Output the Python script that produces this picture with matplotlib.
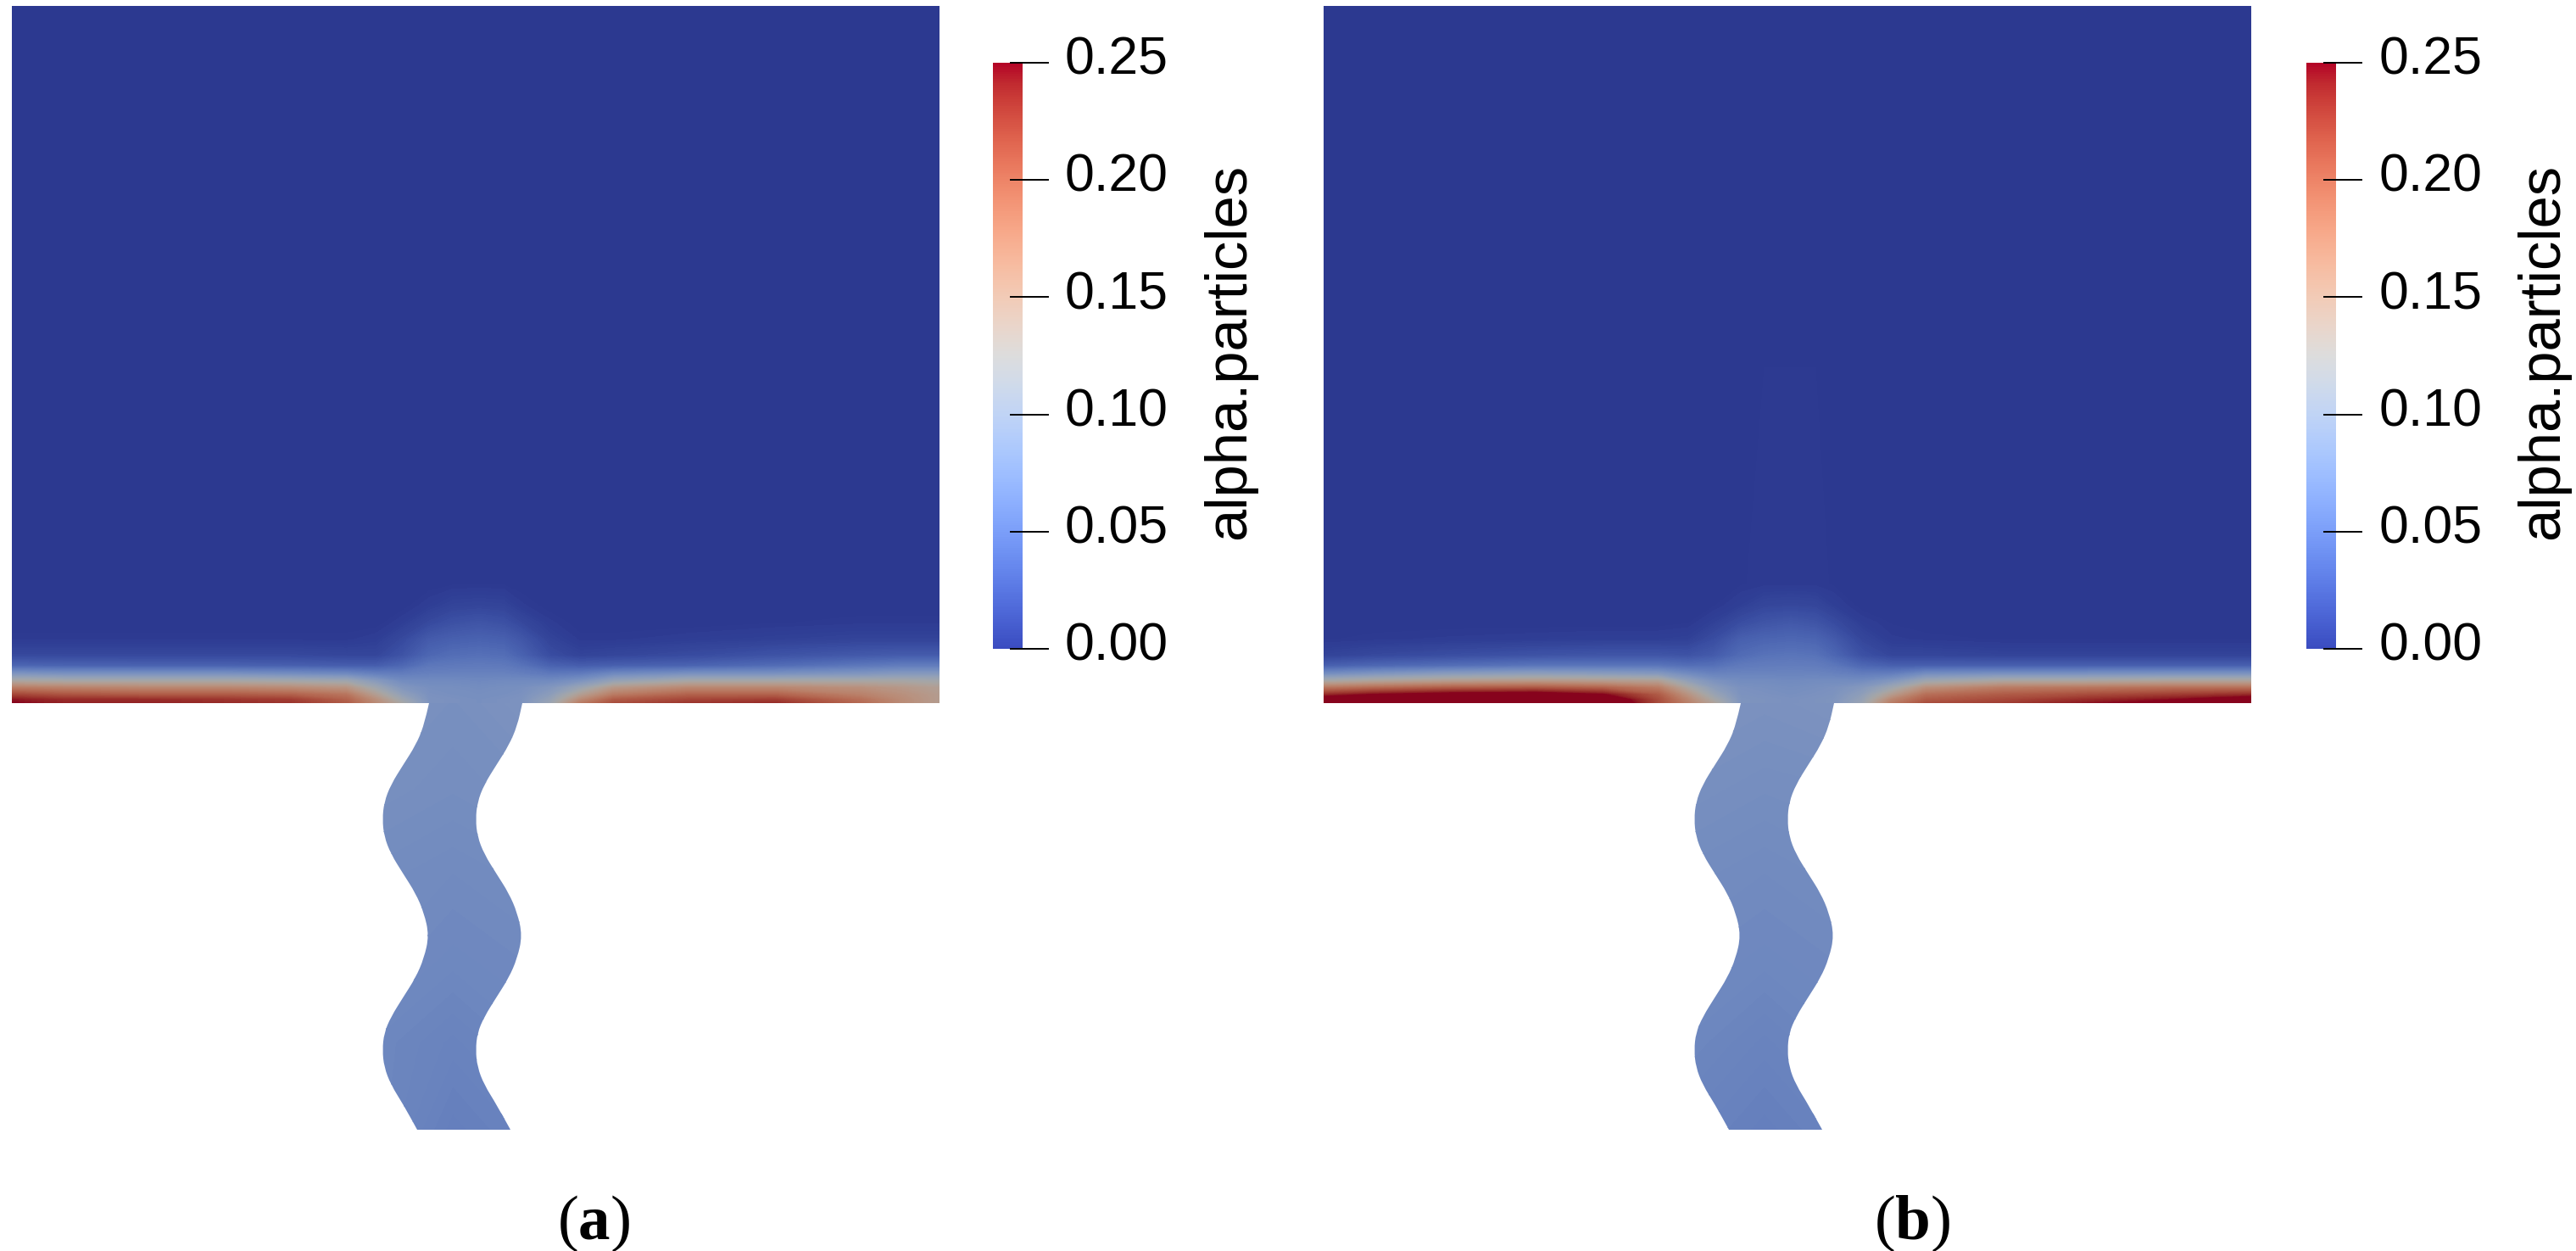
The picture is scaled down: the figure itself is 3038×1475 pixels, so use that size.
#!/usr/bin/env python
"""Particle volume fraction fields for two cases, with colour bars."""

import matplotlib
matplotlib.use('Agg')
import matplotlib.pyplot as plt
import numpy as np
from matplotlib.cm import ScalarMappable
from matplotlib.colors import ListedColormap, Normalize
from matplotlib.patches import PathPatch
from matplotlib.path import Path

WIDTH, HEIGHT = 3038, 1475
DPI = 100

# field nodes, in image pixels from the left wall and from the floor
X_NODES = [0, 60, 150, 250, 330, 395, 430, 460, 492, 520, 551, 580, 601, 635, 670, 710, 800, 900, 1000, 1050, 1094]
H_NODES = [0, 4, 10, 18, 26, 34, 44, 56, 75, 95, 115, 140, 822]

FIELD_A = [
    [.250, .240, .240, .235, .230, .205, .165, .125, .080, .078, .076, .078, .080, .110, .180, .215, .230, .235, .195, .165, .145],
    [.245, .235, .235, .230, .225, .200, .160, .115, .080, .078, .076, .078, .080, .105, .165, .205, .220, .225, .190, .165, .145],
    [.220, .210, .205, .205, .200, .185, .140, .100, .078, .076, .075, .076, .078, .095, .140, .180, .200, .200, .175, .160, .145],
    [.180, .175, .170, .170, .165, .155, .115, .085, .076, .075, .073, .075, .076, .085, .110, .150, .170, .170, .160, .150, .140],
    [.130, .125, .125, .125, .120, .115, .090, .072, .070, .070, .068, .070, .070, .070, .080, .105, .125, .125, .125, .125, .120],
    [.085, .080, .080, .080, .075, .070, .060, .056, .060, .061, .061, .061, .058, .052, .055, .070, .080, .080, .085, .090, .090],
    [.035, .033, .032, .032, .030, .028, .028, .036, .050, .052, .053, .052, .046, .032, .028, .030, .033, .040, .050, .055, .055],
    [.012, .012, .012, .012, .012, .010, .010, .020, .036, .042, .044, .042, .032, .015, .008, .010, .014, .020, .025, .027, .027],
    [.002, .002, .002, .002, .002, .002, .004, .012, .026, .030, .032, .030, .023, .008, .002, .002, .004, .006, .008, .008, .008],
    [.000, .000, .000, .000, .000, .000, .000, .004, .012, .018, .021, .018, .011, .003, .000, .000, .000, .001, .002, .002, .002],
    [.000, .000, .000, .000, .000, .000, .000, .000, .004, .008, .009, .008, .003, .000, .000, .000, .000, .000, .000, .000, .000],
    [.000, .000, .000, .000, .000, .000, .000, .000, .000, .001, .001, .001, .000, .000, .000, .000, .000, .000, .000, .000, .000],
    [.000, .000, .000, .000, .000, .000, .000, .000, .000, .000, .000, .000, .000, .000, .000, .000, .000, .000, .000, .000, .000],
]

FIELD_B = [
    [.280, .290, .300, .310, .290, .215, .175, .135, .082, .080, .078, .080, .082, .110, .180, .215, .225, .245, .255, .265, .280],
    [.270, .280, .290, .300, .280, .215, .170, .125, .082, .080, .078, .080, .082, .105, .170, .205, .218, .235, .248, .258, .268],
    [.235, .250, .262, .268, .250, .205, .155, .110, .080, .078, .076, .078, .080, .098, .145, .190, .205, .215, .225, .230, .235],
    [.185, .195, .205, .208, .200, .180, .130, .095, .078, .076, .074, .076, .078, .088, .115, .160, .180, .185, .190, .190, .190],
    [.125, .135, .145, .150, .145, .140, .100, .080, .072, .072, .070, .072, .072, .072, .085, .115, .130, .130, .135, .135, .135],
    [.075, .085, .095, .100, .095, .090, .072, .062, .063, .063, .063, .063, .061, .056, .058, .075, .080, .080, .082, .082, .082],
    [.030, .036, .042, .048, .048, .048, .042, .044, .053, .055, .056, .055, .050, .036, .030, .030, .030, .030, .030, .030, .030],
    [.008, .012, .016, .020, .022, .022, .020, .026, .040, .046, .048, .046, .036, .018, .010, .010, .008, .008, .008, .008, .008],
    [.001, .002, .003, .004, .005, .005, .006, .015, .030, .034, .036, .034, .026, .010, .003, .002, .001, .001, .001, .001, .001],
    [.000, .000, .000, .000, .000, .000, .001, .006, .015, .021, .024, .021, .014, .004, .001, .000, .000, .000, .000, .000, .000],
    [.000, .000, .000, .000, .000, .000, .000, .001, .005, .010, .011, .010, .005, .000, .000, .000, .000, .000, .000, .000, .000],
    [.000, .000, .000, .000, .000, .000, .000, .000, .001, .002, .002, .002, .001, .000, .000, .000, .000, .000, .000, .000, .000],
    [.000, .000, .000, .000, .000, .000, .000, .000, .000, .000, .000, .000, .000, .000, .000, .000, .000, .000, .000, .000, .000],
]

# wavy channel below the floor: depth and left wall position, right wall is a fixed width away
CHANNEL_DEPTH = [0, 27, 50, 72, 96, 117, 137, 157, 178, 202, 224, 247, 274, 301, 324, 346, 370, 389, 409, 429, 450, 474, 503]
CHANNEL_LEFT = [492, 486, 476, 462, 447, 439, 437, 439, 447, 462, 476, 486, 492, 486, 476, 462, 447, 439, 437, 439, 447, 462, 478]
CHANNEL_WIDTH = 110

CHANNEL_X_NODES = [430, 520, 610]
CHANNEL_H_NODES = [-503, -400, -300, -200, -100, 0]
CHANNEL_A = [
    [.066, .058, .062],
    [.066, .062, .066],
    [.070, .067, .069],
    [.072, .070, .072],
    [.076, .074, .076],
    [.080, .076, .080],
]
CHANNEL_B = [
    [.062, .058, .062],
    [.066, .062, .066],
    [.069, .067, .069],
    [.072, .070, .072],
    [.076, .074, .075],
    [.080, .078, .080],
]

CBAR_TICKS = [0.00, 0.05, 0.10, 0.15, 0.20, 0.25]
CBAR_LABEL = 'alpha.particles'
PANEL_LABELS = ['a', 'b']


def px_axes(fig, left, top, right, bottom):
    """Add axes placed by image pixel edges."""
    return fig.add_axes([left / WIDTH, 1 - bottom / HEIGHT, (right - left) / WIDTH, (bottom - top) / HEIGHT])


def field_colormap():
    """Same colour map as the bar, but shaded darker like the rendered surface."""
    colours = plt.get_cmap('coolwarm')(np.linspace(0, 1, 512))
    colours[:, :3] *= 0.75
    return ListedColormap(colours)


def smooth_wall(points):
    """Vertices and codes of a quadratic curve using the points as control points."""
    mids = (points[:-1] + points[1:]) / 2
    verts, codes = [points[0]], [Path.LINETO]
    for ctrl, mid in zip(points[1:-1], mids[1:]):
        verts += [ctrl, mid]
        codes += [Path.CURVE3, Path.CURVE3]
    verts.append(points[-1])
    codes.append(Path.LINETO)
    return verts, codes


def channel_path():
    depth = -np.array(CHANNEL_DEPTH, dtype=float)
    walls = np.array(CHANNEL_LEFT, dtype=float)
    left_verts, left_codes = smooth_wall(np.column_stack([walls, depth]))
    right_verts, right_codes = smooth_wall(np.column_stack([walls + CHANNEL_WIDTH, depth])[::-1])
    verts = left_verts + right_verts + [left_verts[0]]
    codes = left_codes + right_codes + [Path.CLOSEPOLY]
    codes[0] = Path.MOVETO
    return Path(verts, codes)


def plot_field(fig, left, field, channel):
    ax = px_axes(fig, left, 7, left + 1094, 1332)
    levels = np.linspace(0, 0.25, 201)
    cmap = field_colormap()
    ax.contourf(X_NODES, H_NODES, field, levels=levels, cmap=cmap, extend='both', antialiased=False)

    patch = PathPatch(channel_path(), transform=ax.transData, fill=False, edgecolor='none')
    ax.add_patch(patch)
    cs = ax.contourf(CHANNEL_X_NODES, CHANNEL_H_NODES, channel, levels=levels, cmap=cmap,
                     extend='both', antialiased=False)
    cs.set_clip_path(patch)

    ax.set_xlim(0, 1094)
    ax.set_ylim(-503, 822)
    ax.axis('off')


def plot_colorbar(fig, left):
    cax = px_axes(fig, left, 74, left + 35, 765)
    cbar = fig.colorbar(ScalarMappable(Normalize(0, 0.25), 'coolwarm'), cax=cax)
    cbar.outline.set_visible(False)
    cbar.set_ticks(CBAR_TICKS)
    cax.tick_params(length=0, labelright=False)

    trans = cax.get_yaxis_transform()
    for value in CBAR_TICKS:
        cax.plot([0.6, 1.87], [value, value], color='black', lw=1.4, transform=trans, clip_on=False)
        cax.annotate(f'{value:.2f}', xy=(85 / 35, value), xycoords=trans, xytext=(0, 2),
                     textcoords='offset points', ha='left', va='center', fontsize=45,
                     family='Liberation Sans')
    fig.text((left + 279) / WIDTH, 1 - 414 / HEIGHT, CBAR_LABEL, rotation=90, ha='center', va='center',
             fontsize=49.5, family='Liberation Sans')


def main():
    plt.rcParams['mathtext.fontset'] = 'custom'
    plt.rcParams['mathtext.bf'] = 'Liberation Serif:bold'

    fig = plt.figure(figsize=(WIDTH / DPI, HEIGHT / DPI), dpi=DPI, facecolor='white')

    plot_field(fig, 14, FIELD_A, CHANNEL_A)
    plot_field(fig, 1561, FIELD_B, CHANNEL_B)
    plot_colorbar(fig, 1171)
    plot_colorbar(fig, 2720)

    for x, name in zip([700, 2255], PANEL_LABELS):
        fig.text(x / WIDTH, 1 - 1443 / HEIGHT, rf'($\mathbf{{{name}}}$)', ha='center', va='center',
                 fontsize=54, family='Liberation Serif')

    fig.savefig('out.png', dpi=DPI)


if __name__ == '__main__':
    main()
